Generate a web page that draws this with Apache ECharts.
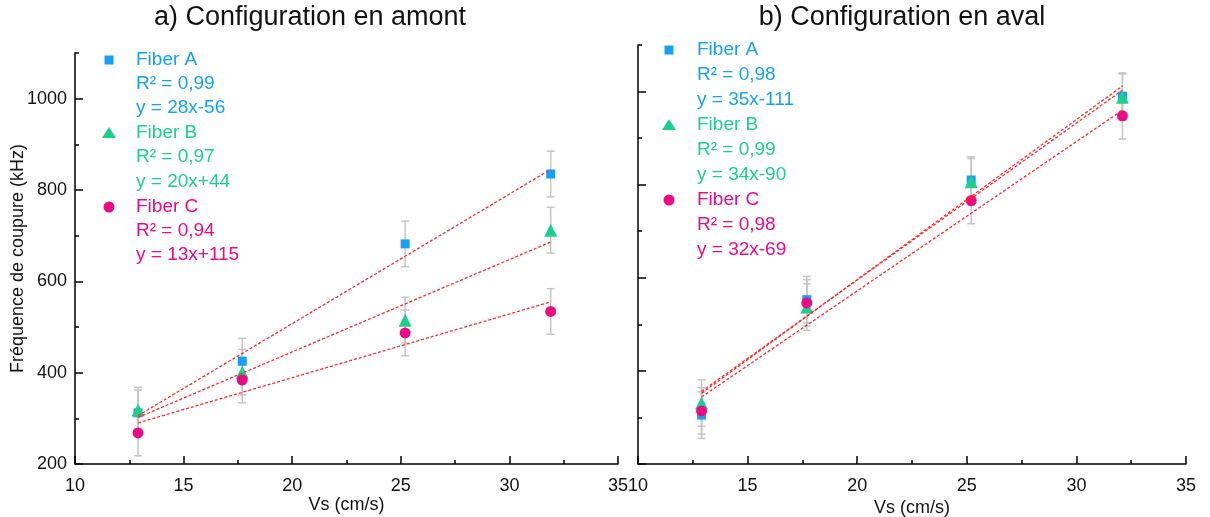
<!DOCTYPE html>
<html>
<head>
<meta charset="utf-8">
<script src="https://cdn.jsdelivr.net/npm/echarts@6/dist/echarts.min.js"></script>
<style>
    html, body { margin: 0; padding: 0; background: #fff; }
    #chart { width: 1210px; height: 517px; }
</style>
</head>
<body>
<div id="chart"></div>
<script>
// 数据
var vsAmont = [12.9, 17.7, 25.2, 31.9];
var vsAval = [12.9, 17.7, 25.2, 32.1];

var amontA = [312, 425, 682, 835];
var amontB = [318, 401, 515, 712];
var amontC = [268, 384, 487, 534];
var avalA = [305, 553, 810, 990];
var avalB = [331, 537, 806, 988];
var avalC = [314, 546, 766, 948];

var errAmontA = [50, 50, 50, 50];
var errAmontB = [50, 50, 50, 50];
var errAmontC = [50, 50, 50, 50];
var errAvalA = [50, 50, 50, 50];
var errAvalB = [50, 50, 50, 50];
var errAvalC = [50, 50, 50, 50];

// droites de régression (extrémités)
var fitXAmont = [12.9, 31.9];
var fitAmontA = [306, 845];
var fitAmontB = [302, 686];
var fitAmontC = [290, 555];
var fitXAval = [12.9, 32.1];
var fitAvalA = [352, 1012];
var fitAvalB = [356, 1003];
var fitAvalC = [344, 960];

var seriesNames = ['Fiber A', 'Fiber B', 'Fiber C'];
var r2Amont = ['R² = 0,99', 'R² = 0,97', 'R² = 0,94'];
var eqAmont = ['y = 28x-56', 'y = 20x+44', 'y = 13x+115'];
var r2Aval = ['R² = 0,98', 'R² = 0,99', 'R² = 0,98'];
var eqAval = ['y = 35x-111', 'y = 34x-90', 'y = 32x-69'];

var majorY = [200, 400, 600, 800, 1000];
var minorY = [300, 500, 700, 900, 1100];

var colors = ['#16a0f5', '#1ccf8c', '#ec0a84'];
var symbols = ['rect', 'triangle', 'circle'];
var symbolSizes = [9, 13, 11];
var FONT = 'Liberation Sans, Arial, sans-serif';

var chartContainer = echarts.init(document.getElementById('chart'));

function pairs(xs, ys) {
    return xs.map(function (x, i) { return [x, ys[i]]; });
}

function errData(xs, ys, errs) {
    return xs.map(function (x, i) { return [x, ys[i] - errs[i], ys[i] + errs[i]]; });
}

function plain(v) {
    return String(v); // pas de séparateur de milliers
}

// barres d'erreur grises
function errorBar(params, api) {
    var x = api.value(0);
    var lo = api.coord([x, api.value(1)]);
    var hi = api.coord([x, api.value(2)]);
    var half = 4;
    var style = { stroke: '#c4c4c4', lineWidth: 1.5 };
    return {
        type: 'group',
        children: [
            { type: 'line', shape: { x1: hi[0], y1: hi[1], x2: lo[0], y2: lo[1] }, style: style },
            { type: 'line', shape: { x1: hi[0] - half, y1: hi[1], x2: hi[0] + half, y2: hi[1] }, style: style },
            { type: 'line', shape: { x1: lo[0] - half, y1: lo[1], x2: lo[0] + half, y2: lo[1] }, style: style }
        ]
    };
}

function xAxisCfg(gridIndex, nameGap) {
    return {
        gridIndex: gridIndex,
        type: 'value',
        min: 10,
        max: 35,
        interval: 5,
        name: 'Vs (cm/s)',
        nameLocation: 'middle',
        nameGap: nameGap,
        nameMoveOverlap: false,
        nameTextStyle: { fontSize: 18, color: '#111', fontFamily: FONT },
        axisLine: { show: true, lineStyle: { color: '#000', width: 1.5 } },
        axisTick: { show: true, inside: true, length: 8, lineStyle: { color: '#000', width: 1.5 } },
        minorTick: { show: true, splitNumber: 2, length: 4, lineStyle: { color: '#000', width: 1.5 } },
        axisLabel: { fontSize: 18, color: '#111', margin: 13, fontFamily: FONT, formatter: plain },
        splitLine: { show: false }
    };
}

function yAxisCfgs(gridIndex, showLabels) {
    var main = {
        gridIndex: gridIndex,
        type: 'value',
        min: 200,
        max: 1100,
        interval: 100,
        axisLine: { show: true, lineStyle: { color: '#000', width: 1.5 } },
        axisTick: { show: true, inside: true, length: 8, customValues: majorY, lineStyle: { color: '#000', width: 1.5 } },
        axisLabel: { show: showLabels, customValues: majorY, fontSize: 18, color: '#111', margin: 8, fontFamily: FONT, formatter: plain },
        splitLine: { show: false }
    };
    if (showLabels) {
        main.name = 'Fréquence de coupure (kHz)';
        main.nameLocation = 'middle';
        main.nameGap = 48;
        main.nameMoveOverlap = false;
        main.nameTextStyle = { fontSize: 18, color: '#111', fontFamily: FONT };
    }
    // petites graduations
    var minor = {
        gridIndex: gridIndex,
        type: 'value',
        position: 'left',
        min: 200,
        max: 1100,
        interval: 100,
        axisLine: { show: false },
        axisTick: { show: true, inside: true, length: 4, customValues: minorY, lineStyle: { color: '#000', width: 1.5 } },
        axisLabel: { show: false },
        splitLine: { show: false }
    };
    return [main, minor];
}

function panelSeries(xIndex, yIndex, xs, vals, errs, fitX, fits) {
    var list = [];
    for (var i = 0; i < 3; i++) {
        list.push({
            type: 'custom',
            xAxisIndex: xIndex,
            yAxisIndex: yIndex,
            renderItem: errorBar,
            encode: { x: 0, y: [1, 2] },
            data: errData(xs, vals[i], errs[i]),
            z: 1,
            silent: true
        });
    }
    for (var j = 0; j < 3; j++) {
        list.push({
            name: seriesNames[j],
            type: 'scatter',
            xAxisIndex: xIndex,
            yAxisIndex: yIndex,
            symbol: symbols[j],
            symbolSize: symbolSizes[j],
            itemStyle: { color: colors[j], opacity: 1 },
            data: pairs(xs, vals[j]),
            z: 2
        });
    }
    for (var k = 0; k < 3; k++) {
        list.push({
            type: 'line',
            xAxisIndex: xIndex,
            yAxisIndex: yIndex,
            symbol: 'none',
            lineStyle: { color: '#ff2a2a', width: 1.3, type: [3, 2] },
            data: pairs(fitX, fits[k]),
            z: 3,
            silent: true
        });
    }
    return list;
}

// légende dessinée à la main
function legendGraphics(mx, tx, rows, r2, eq) {
    var g = [];
    for (var i = 0; i < 3; i++) {
        var y0 = rows[i * 3];
        if (i === 0) {
            g.push({ type: 'rect', shape: { x: mx - 4.5, y: y0 - 4.5, width: 9, height: 9 }, style: { fill: colors[0] } });
        } else if (i === 1) {
            g.push({ type: 'polygon', shape: { points: [[mx, y0 - 6], [mx + 7, y0 + 5], [mx - 7, y0 + 5]] }, style: { fill: colors[1] } });
        } else {
            g.push({ type: 'circle', shape: { cx: mx, cy: y0, r: 5.5 }, style: { fill: colors[2] } });
        }
        var texts = [seriesNames[i], r2[i], eq[i]];
        for (var t = 0; t < 3; t++) {
            g.push({
                type: 'text',
                x: tx,
                y: rows[i * 3 + t],
                style: { text: texts[t], fill: colors[i], font: '19px ' + FONT, verticalAlign: 'middle', align: 'left' }
            });
        }
    }
    return g;
}

var legendRowsLeft = [60, 84, 108, 133, 157, 182, 207, 231, 255];
var legendRowsRight = [50, 75, 100, 125, 150, 175, 200, 225, 250];

var yLeft = yAxisCfgs(0, true);
var yRight = yAxisCfgs(1, false);

var option = {
    animation: false,
    backgroundColor: '#fff',
    grid: [
        { left: 75, top: 53, width: 543, height: 411, outerBoundsMode: 'none' },
        { left: 638, top: 45, width: 548, height: 419, outerBoundsMode: 'none' }
    ],
    xAxis: [xAxisCfg(0, 32), xAxisCfg(1, 35)],
    yAxis: [yLeft[0], yLeft[1], yRight[0], yRight[1]],
    graphic: [
        { type: 'text', x: 310, y: 18, style: { text: 'a) Configuration en amont', fill: '#111', font: '27px ' + FONT, align: 'center', verticalAlign: 'middle' } },
        { type: 'text', x: 902, y: 18, style: { text: 'b) Configuration en aval', fill: '#111', font: '27px ' + FONT, align: 'center', verticalAlign: 'middle' } }
    ]
        .concat(legendGraphics(109, 136, legendRowsLeft, r2Amont, eqAmont))
        .concat(legendGraphics(669, 697, legendRowsRight, r2Aval, eqAval)),
    series: []
        .concat(panelSeries(0, 0, vsAmont, [amontA, amontB, amontC],
            [errAmontA, errAmontB, errAmontC], fitXAmont, [fitAmontA, fitAmontB, fitAmontC]))
        .concat(panelSeries(1, 2, vsAval, [avalA, avalB, avalC],
            [errAvalA, errAvalB, errAvalC], fitXAval, [fitAvalA, fitAvalB, fitAvalC]))
};

if (option && typeof option === 'object') {
    chartContainer.setOption(option, true);
}
</script>
</body>
</html>
